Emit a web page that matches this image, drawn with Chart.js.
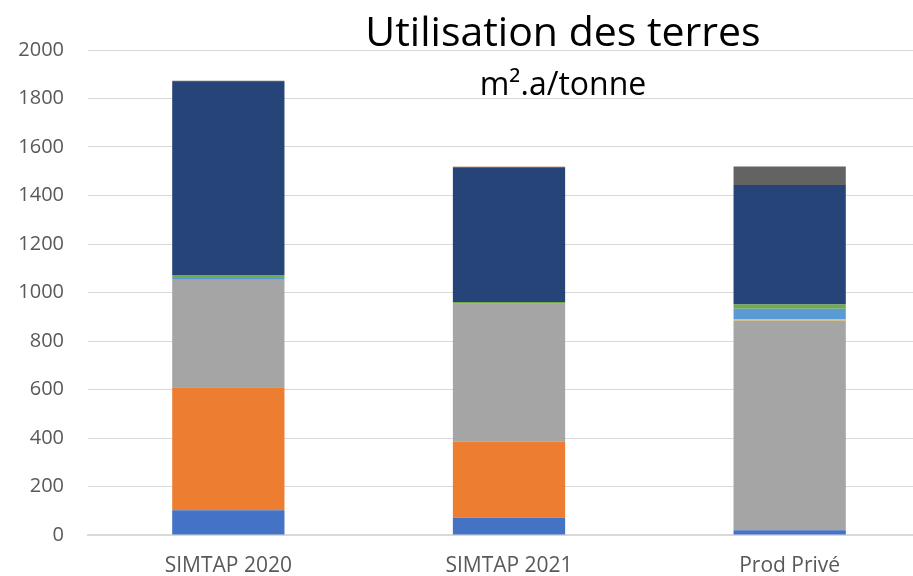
<!DOCTYPE html>
<html>
<head>
<meta charset="utf-8">
<script src="https://cdn.jsdelivr.net/npm/chart.js@4"></script>
<style>
  html, body { margin: 0; padding: 0; background: #fff; overflow: hidden; }
  #wrap { width: 930px; height: 576px; }
</style>
</head>
<body>
<div id="wrap"><canvas id="chart" width="930" height="576"></canvas></div>
<script>
// Catégories et valeurs (m2.a/tonne)
const categories = ['SIMTAP 2020', 'SIMTAP 2021', 'Prod Privé'];
const serie1 = [102, 71, 20];     // bleu
const serie2 = [507, 314, 0];     // orange
const serie3 = [447, 568, 865];   // gris
const serie4 = [0, 0, 4];         // jaune
const serie5 = [4, 2, 44];        // bleu clair
const serie6 = [12, 6, 18];       // vert
const serie7 = [796, 555, 492];   // bleu foncé
const serie8 = [4, 3, 0];         // brun
const serie9 = [1, 0, 77];        // gris foncé
const yTicks = [0, 200, 400, 600, 800, 1000, 1200, 1400, 1600, 1800, 2000];

const couleurs = ['#4472C4', '#ED7D31', '#A5A5A5', '#FFC000', '#5B9BD5', '#70AD47', '#264478', '#9E480E', '#636363'];
const series = [serie1, serie2, serie3, serie4, serie5, serie6, serie7, serie8, serie9];

// Titre dessiné par-dessus la zone de tracé (comme dans Excel)
const titrePlugin = {
    id: 'titre',
    afterDraw(chart) {
        const ctx = chart.ctx;
        ctx.save();
        ctx.fillStyle = '#000';
        ctx.textAlign = 'center';
        ctx.textBaseline = 'alphabetic';
        ctx.font = '41px "Open Sans"';
        ctx.fillText('Utilisation des terres', 563, 46);
        ctx.font = '32px "Open Sans"';
        ctx.fillText('m².a/tonne', 563, 95);
        ctx.restore();
    }
};

const ctx = document.getElementById('chart').getContext('2d');
new Chart(ctx, {
    type: 'bar',
    data: {
        labels: categories,
        datasets: series.map((s, i) => ({
            label: 'Série' + (i + 1),
            data: s,
            backgroundColor: couleurs[i],
            borderWidth: 0,
            categoryPercentage: 0.4,
            barPercentage: 1
        }))
    },
    options: {
        responsive: false,
        animation: false,
        layout: { padding: { top: 50, right: 0, left: 0, bottom: 0 } },
        plugins: {
            legend: { display: false },
            tooltip: { enabled: false }
        },
        scales: {
            x: {
                stacked: true,
                grid: { display: false },
                border: { color: '#d9d9d9', width: 2 },
                ticks: { color: '#595959', font: { family: 'Open Sans', size: 21 }, padding: 10 },
                afterFit(scale) { scale.height = 41; }
            },
            y: {
                stacked: true,
                min: 0,
                max: 2000,
                afterBuildTicks(scale) { scale.ticks = yTicks.map(v => ({ value: v })); },
                grid: { color: '#d9d9d9', lineWidth: 1, drawTicks: false },
                border: { display: false },
                ticks: {
                    color: '#595959',
                    font: { family: 'Open Sans', size: 20 },
                    padding: 24,
                    callback: (v) => String(v)
                },
                afterFit(scale) { scale.width = 88; }
            }
        }
    },
    plugins: [titrePlugin]
});
</script>
</body>
</html>
